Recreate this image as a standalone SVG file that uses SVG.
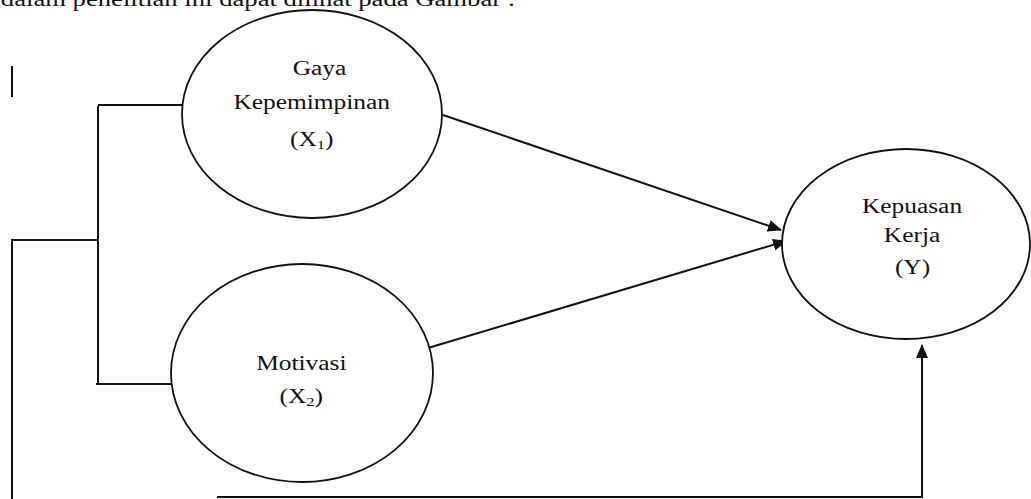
<svg xmlns="http://www.w3.org/2000/svg" width="1031" height="499" viewBox="0 0 1031 499">
<style>
text{font-family:"Liberation Serif","Times New Roman",serif;font-size:20px;fill:#111;text-anchor:middle}
.n{fill:#fff;stroke:#111;stroke-width:1.8}
.c{fill:none;stroke:#111;stroke-width:2}
.sub{font-size:13px}
</style>
<defs>
<marker id="ah" viewBox="0 0 14 12" refX="13" refY="6" markerWidth="14" markerHeight="12" markerUnits="userSpaceOnUse" orient="auto">
<path d="M0,0 L14,6 L0,12 Z" fill="#111"/>
</marker>
</defs>
<rect width="1031" height="499" fill="#fff"/>
<text transform="translate(258,6) scale(1.27,1)" textLength="405" lengthAdjust="spacingAndGlyphs">dalam penelitian ini dapat dilihat pada Gambar :</text>
<g id="connectors">
<line class="c" x1="12" y1="66" x2="12" y2="97"/>
<line class="c" x1="98" y1="105" x2="183" y2="105"/>
<line class="c" x1="98" y1="106" x2="98" y2="385"/>
<line class="c" x1="96" y1="384" x2="172" y2="384"/>
<polyline class="c" points="97,240 12,240 12,499"/>
<line class="c" x1="217" y1="497" x2="923" y2="497"/>
<line class="c" x1="922" y1="497" x2="922" y2="345" marker-end="url(#ah)"/>
<line class="c" x1="443" y1="115" x2="781" y2="230" marker-end="url(#ah)"/>
<line class="c" x1="428" y1="348" x2="786" y2="241" marker-end="url(#ah)"/>
</g>
<g id="gaya">
<ellipse class="n" cx="312" cy="114" rx="130" ry="104"/>
<text transform="translate(319.5,75) scale(1.27,1)">Gaya</text>
<text transform="translate(311.7,109) scale(1.27,1)">Kepemimpinan</text>
<text transform="translate(311.7,146) scale(1.27,1)">(X<tspan class="sub" dy="3">1</tspan><tspan dy="-3">)</tspan></text>
</g>
<g id="motivasi">
<ellipse class="n" cx="302" cy="373" rx="131" ry="109"/>
<text transform="translate(301.3,370) scale(1.27,1)">Motivasi</text>
<text transform="translate(301.3,403) scale(1.27,1)">(X<tspan class="sub" dy="3">2</tspan><tspan dy="-3">)</tspan></text>
</g>
<g id="kepuasan">
<ellipse class="n" cx="906" cy="244" rx="124" ry="95"/>
<text transform="translate(912,213) scale(1.27,1)">Kepuasan</text>
<text transform="translate(912,242) scale(1.27,1)">Kerja</text>
<text transform="translate(912.5,274) scale(1.27,1)">(Y)</text>
</g>
</svg>
